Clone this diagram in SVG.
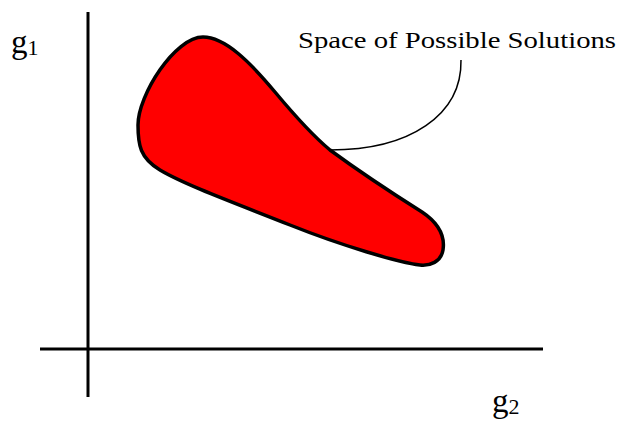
<svg xmlns="http://www.w3.org/2000/svg" width="618" height="421" viewBox="0 0 618 421">
<style>
.lbl{font-family:"Liberation Serif","DejaVu Serif",serif;fill:#000}
.axis{stroke:#000;stroke-width:3;fill:none}
</style>
<rect width="618" height="421" fill="#fff"/>
<g id="axes">
<line class="axis" x1="88" y1="12" x2="88" y2="397"/>
<line class="axis" x1="40" y1="349" x2="543" y2="349"/>
</g>
<g id="region">
<path d="M 203,37 C 225,37 250,62 275,92 C 295,116 312,135 330,150 C 360,172 395,195 422,212 C 440,224 445,237 443,250 C 441,262 430,266 420,265 C 400,263 340,245 290,225 C 240,205 185,185 160,170 C 140,158 138,145 138,125 C 138,95 175,37 203,37 Z" fill="#ff0000" stroke="#000" stroke-width="3.5"/>
</g>
<g id="connectors">
<path d="M 461,60 C 462,115 410,150 330,150" fill="none" stroke="#000" stroke-width="1.5"/>
</g>
<g id="label">
<text class="lbl" x="298" y="48" font-size="24" textLength="318" lengthAdjust="spacingAndGlyphs">Space of Possible Solutions</text>
</g>
<g id="g1">
<text class="lbl" x="11" y="53" font-size="33">g<tspan font-size="22" dy="2">1</tspan></text>
</g>
<g id="g2">
<text class="lbl" x="492" y="412" font-size="33">g<tspan font-size="22" dy="2">2</tspan></text>
</g>
</svg>
